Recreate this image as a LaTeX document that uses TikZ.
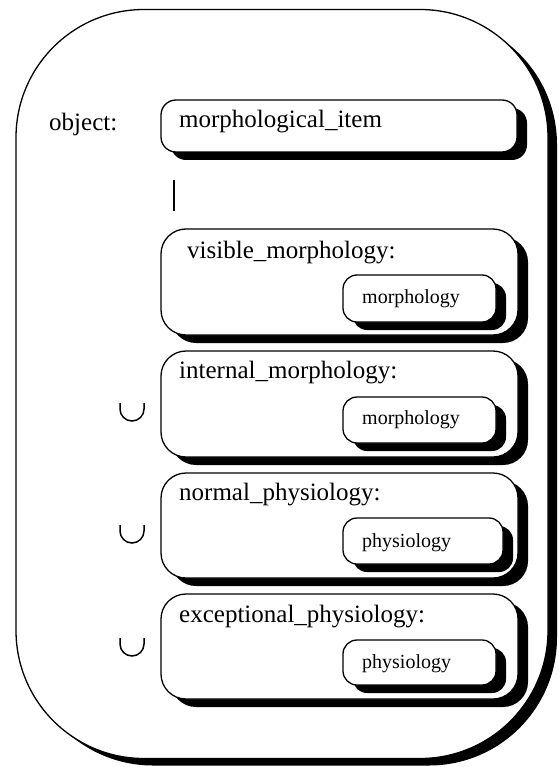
\documentclass[tikz,border=0pt]{standalone}
\usepackage{fontspec}
\setmainfont{Liberation Serif}
\usetikzlibrary{shadows}
\begin{document}
\begin{tikzpicture}[x=1pt,y=-1pt,
  box/.style={draw, line width=1.3pt, fill=white, rounded corners=#1, inner sep=0pt, outer sep=0pt,
     anchor=north west, drop shadow={shadow xshift=10pt, shadow yshift=-8pt, fill=black, opacity=1}},
  outerbox/.style={draw, line width=1.3pt, fill=white, rounded corners=128pt, inner sep=0pt, outer sep=0pt,
     anchor=north west, drop shadow={shadow xshift=9pt, shadow yshift=-7pt, fill=black, opacity=1}},
  big/.style={font=\fontsize{25}{30}\selectfont, anchor=base west, inner sep=0pt},
  small/.style={font=\fontsize{20}{24}\selectfont, anchor=base west, inner sep=0pt},
  cupsym/.style={line width=1.5pt}
]
\useasboundingbox (0,0) rectangle (558,767);
% outer frame
\node[outerbox, minimum width=532pt, minimum height=749pt] (frame) at (16,9.5) {};
% object
\node[big] (objlbl) at (49,131) {object:};
\node[box=15pt, minimum width=356pt, minimum height=52pt] (item) at (161,100) {};
\node[big] (itemlbl) at (179,128) {morphological\_item};
% separator
\coordinate (v1) at (174,180);
\coordinate (v2) at (174,211);
\draw[line width=1.3pt] (v1) -- (v2);
% visible
\node[box=25pt, minimum width=357pt, minimum height=106pt] (vis) at (161,229) {};
\node[big] (vislbl) at (187,258) {visible\_morphology:};
\node[box=14pt, minimum width=153pt, minimum height=47pt] (vism) at (343,275) {};
\node[small] (vismlbl) at (362,303) {morphology};
% internal
\node[box=25pt, minimum width=357pt, minimum height=106pt] (int) at (161,351) {};
\node[big] (intlbl) at (179,378) {internal\_morphology:};
\node[box=14pt, minimum width=153pt, minimum height=46pt] (intm) at (343,397) {};
\node[small] (intmlbl) at (362,424) {morphology};
% normal
\node[box=25pt, minimum width=357pt, minimum height=105pt] (nor) at (161,473) {};
\node[big] (norlbl) at (179,500) {normal\_physiology:};
\node[box=14pt, minimum width=160pt, minimum height=46pt] (norp) at (343,518) {};
\node[small] (norplbl) at (362,547) {physiology};
% exceptional
\node[box=25pt, minimum width=357pt, minimum height=105pt] (exc) at (161,594) {};
\node[big] (exclbl) at (179,622) {exceptional\_physiology:};
\node[box=14pt, minimum width=153pt, minimum height=45pt] (excp) at (343,640) {};
\node[small] (excplbl) at (362,668) {physiology};
% union symbols
\draw[cupsym] (120,403) -- (120,409) arc[start angle=180, end angle=360, radius=12pt] -- (144,403);
\draw[cupsym] (120,525) -- (120,531) arc[start angle=180, end angle=360, radius=12pt] -- (144,525);
\draw[cupsym] (120,638) -- (120,644) arc[start angle=180, end angle=360, radius=12pt] -- (144,638);
\end{tikzpicture}
\end{document}
